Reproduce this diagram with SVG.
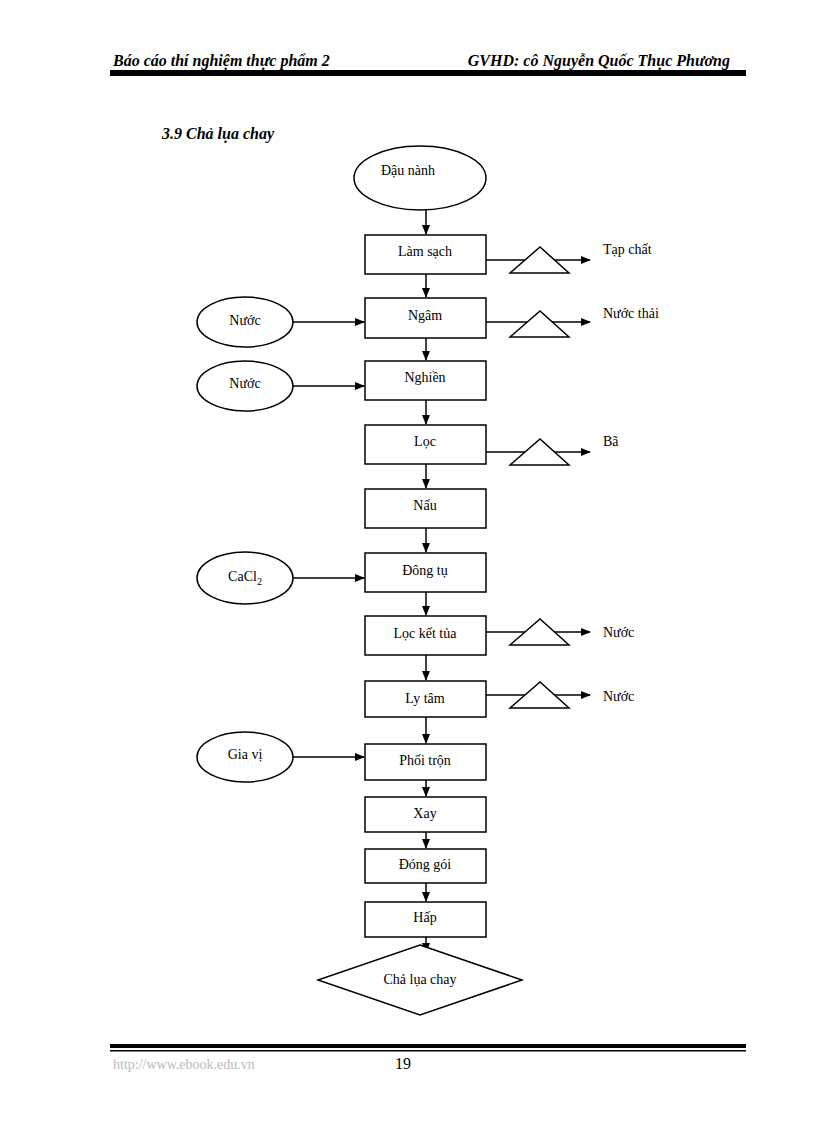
<svg xmlns="http://www.w3.org/2000/svg" width="816" height="1123" viewBox="0 0 816 1123">
<defs><marker id="a" markerWidth="10" markerHeight="10" refX="9" refY="5" orient="auto" markerUnits="userSpaceOnUse"><path d="M0,1 L10,5 L0,9 Z" fill="#000"/></marker></defs>
<style>
.b{fill:#fff;stroke:#000;stroke-width:1.5}
.t{font-family:"Liberation Serif",serif;font-size:14px;text-anchor:middle}
.l{font-family:"Liberation Serif",serif;font-size:14px}
.c{stroke:#000;stroke-width:1.5;fill:none;marker-end:url(#a)}
.h{font-family:"Liberation Serif",serif;font-size:16px;font-weight:bold;font-style:italic}
</style>
<rect width="816" height="1123" fill="#fff"/>
<text class="h" x="113" y="66">Báo cáo thí nghiệm thực phẩm 2</text>
<text class="h" x="730" y="66" text-anchor="end">GVHD: cô Nguyễn Quốc Thục Phương</text>
<rect x="110" y="70" width="636" height="6" fill="#000"/>
<text class="h" x="162" y="139" font-size="15">3.9 Chả lụa chay</text>
<g id="connectors">
<path class="c" d="M426,210V234"/><path class="c" d="M426,274V297"/><path class="c" d="M426,338V360"/><path class="c" d="M426,400V424"/><path class="c" d="M426,464V488"/><path class="c" d="M426,528V552"/><path class="c" d="M426,592V615"/><path class="c" d="M426,655V680"/><path class="c" d="M426,717V743"/><path class="c" d="M426,780V796"/><path class="c" d="M426,832V848"/><path class="c" d="M426,883V901"/><path class="c" d="M426,937V952"/>
<path class="c" d="M293,322H364"/><path class="c" d="M293,386H364"/><path class="c" d="M293,578H364"/><path class="c" d="M293,757H364"/>
<path class="c" d="M486,260H590"/><path class="c" d="M486,322H590"/><path class="c" d="M486,452H590"/><path class="c" d="M486,632H590"/><path class="c" d="M486,695H590"/>
<g class="b"><path d="M510,273L540,247L569,273Z"/><path d="M510,337L540,311L569,337Z"/><path d="M510,465L540,439L569,465Z"/><path d="M510,645L540,619L569,645Z"/><path d="M510,708L540,682L569,708Z"/></g>
</g>
<g id="n0"><ellipse class="b" cx="420" cy="178" rx="66" ry="32"/><text class="t" x="408" y="175">Đậu nành</text></g>
<g id="n1"><rect class="b" x="365" y="235" width="121" height="39"/><text class="t" x="425" y="256">Làm sạch</text></g>
<g id="n2"><rect class="b" x="365" y="298" width="121" height="40"/><text class="t" x="425" y="320">Ngâm</text></g>
<g id="n3"><rect class="b" x="365" y="361" width="121" height="39"/><text class="t" x="425" y="382">Nghiền</text></g>
<g id="n4"><rect class="b" x="365" y="425" width="121" height="39"/><text class="t" x="425" y="446">Lọc</text></g>
<g id="n5"><rect class="b" x="365" y="489" width="121" height="39"/><text class="t" x="425" y="510">Nấu</text></g>
<g id="n6"><rect class="b" x="365" y="553" width="121" height="39"/><text class="t" x="425" y="575">Đông tụ</text></g>
<g id="n7"><rect class="b" x="365" y="616" width="121" height="39"/><text class="t" x="425" y="638">Lọc kết tủa</text></g>
<g id="n8"><rect class="b" x="365" y="681" width="121" height="36"/><text class="t" x="425" y="703">Ly tâm</text></g>
<g id="n9"><rect class="b" x="365" y="744" width="121" height="36"/><text class="t" x="425" y="765">Phối trộn</text></g>
<g id="n10"><rect class="b" x="365" y="797" width="121" height="35"/><text class="t" x="425" y="818">Xay</text></g>
<g id="n11"><rect class="b" x="365" y="849" width="121" height="34"/><text class="t" x="425" y="869">Đóng gói</text></g>
<g id="n12"><rect class="b" x="365" y="902" width="121" height="35"/><text class="t" x="425" y="922">Hấp</text></g>
<g id="n13"><path class="b" d="M420,945L522,980L420,1015L318,980Z"/><text class="t" x="420" y="984">Chả lụa chay</text></g>
<g id="i1"><ellipse class="b" cx="245" cy="322" rx="48" ry="25"/><text class="t" x="245" y="325">Nước</text></g>
<g id="i2"><ellipse class="b" cx="245" cy="386" rx="48" ry="25"/><text class="t" x="245" y="388">Nước</text></g>
<g id="i3"><ellipse class="b" cx="245" cy="578" rx="48" ry="26"/><text class="t" x="245" y="581">CaCl<tspan font-size="10" dy="4">2</tspan></text></g>
<g id="i4"><ellipse class="b" cx="245" cy="757" rx="48" ry="25"/><text class="t" x="245" y="759">Gia vị</text></g>
<g id="o"><text class="l" x="603" y="254">Tạp chất</text><text class="l" x="603" y="318">Nước thải</text><text class="l" x="603" y="446">Bã</text><text class="l" x="603" y="637">Nước</text><text class="l" x="603" y="701">Nước</text></g>
<rect x="110" y="1044" width="636" height="4" fill="#000"/>
<rect x="110" y="1050" width="636" height="1.5" fill="#000"/>
<text x="113" y="1069" font-family="Liberation Serif,serif" font-size="14" fill="#bbb">http://www.ebook.edu.vn</text>
<text x="395" y="1069" font-family="Liberation Serif,serif" font-size="16">19</text>
</svg>
